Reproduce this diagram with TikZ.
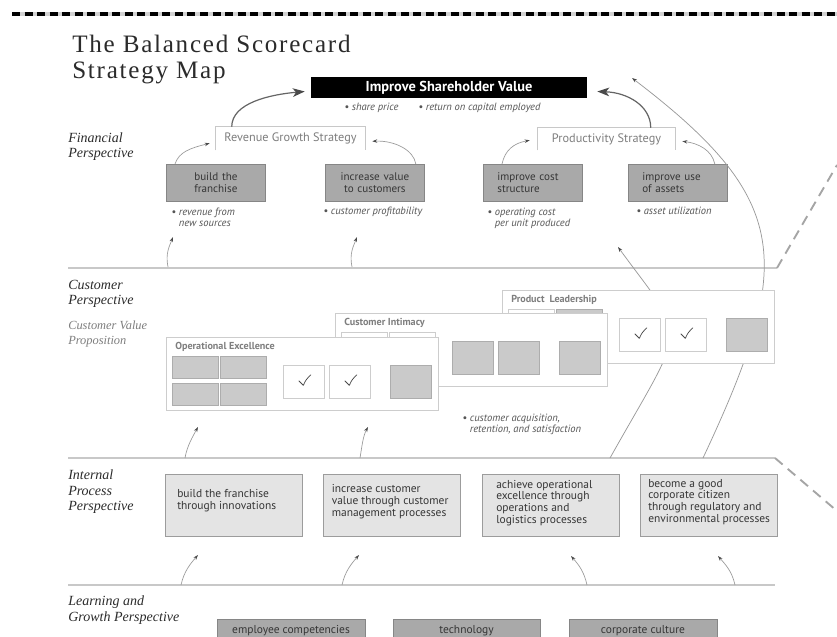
\documentclass[tikz,border=0pt]{standalone}
\usepackage{fontspec}
\setsansfont{PT Sans}
\newfontfamily\titlefont[LetterSpace=7]{Liberation Serif}
\newfontfamily\perspfont{Liberation Serif}
\usetikzlibrary{arrows.meta,calc}

\definecolor{ink}{HTML}{2B2B2B}
\definecolor{boxink}{HTML}{363636}
\definecolor{finfill}{HTML}{A9A9A9}
\definecolor{finline}{HTML}{868686}
\definecolor{ipfill}{HTML}{E4E4E4}
\definecolor{ipline}{HTML}{9C9C9C}
\definecolor{cellfill}{HTML}{CACACA}
\definecolor{cellline}{HTML}{ADADAD}
\definecolor{panelline}{HTML}{CDCDCD}
\definecolor{rulegrey}{HTML}{C8C8C8}
\definecolor{arcgrey}{HTML}{9A9A9A}
\definecolor{headgrey}{HTML}{4A4A4A}
\definecolor{notegrey}{HTML}{555555}
\definecolor{labelgrey}{HTML}{7E7E7E}
\definecolor{dashgap}{HTML}{D2D2D2}

% one value-proposition panel: name, origin, title, cell styles
\newcommand\vpanel[8]{%
  \begin{scope}[shift={#2}]
    \node[vpanelbox] (#1) at (0,0) {};
    \node[vplabel] (#1-title) at (9,9.5) {#3};
    \node[vcell,#4] (#1-a) at (6,19) {};
    \node[vcell,#5] (#1-b) at (54,19) {};
    \node[vcell,#6] (#1-c) at (6,46) {};
    \node[vcell,#6] (#1-d) at (54,46) {};
    \node[vslot,#7] (#1-e) at (117,28) {};
    \node[vslot,#7] (#1-f) at (163,28) {};
    \node[vslot,#8] (#1-g) at (224,28) {};
  \end{scope}}

\begin{document}
\begin{tikzpicture}[x=0.75pt,y=-0.75pt,
  titletext/.style={anchor=base west, inner sep=0pt, text=ink,
    font=\titlefont\fontsize{18.8}{20}\selectfont},
  persp/.style={anchor=north west, inner sep=0pt, align=left, text=ink,
    font=\perspfont\itshape\fontsize{10.5}{11.4}\selectfont},
  note/.style={anchor=north west, inner sep=0pt, align=left, text=notegrey,
    font=\sffamily\itshape\fontsize{7.9}{8.25}\selectfont},
  rule/.style={draw=rulegrey, line width=0.9pt},
  edgedash/.style={draw=labelgrey!70, line width=1.4pt, dash pattern=on 7.5pt off 5pt},
  topbox/.style={fill=black, text=white, inner sep=0pt,
    minimum width=207pt, minimum height=15.75pt,
    font=\sffamily\bfseries\fontsize{10.8}{12}\selectfont},
  tab/.style={fill=white, inner sep=0pt, text=labelgrey,
    minimum width=111.75pt, minimum height=17.25pt,
    font=\sffamily\fontsize{9.2}{10}\selectfont},
  tabline/.style={draw=rulegrey, line width=0.8pt},
  finbox/.style={anchor=north west, fill=finfill, draw=finline, line width=0.6pt,
    minimum height=27.75pt, inner xsep=0pt, inner ysep=0pt,
    text width=74.25pt, align=center, text=boxink,
    font=\sffamily\fontsize{8.3}{9}\selectfont},
  finleft/.style={inner xsep=10.5pt, text width=53.25pt, align=left},
  ipbox/.style={anchor=north west, fill=ipfill, draw=ipline, line width=0.6pt,
    minimum width=102.75pt, minimum height=46.5pt, inner sep=0pt},
  iptext/.style={anchor=west, inner sep=0pt, align=left, text=boxink,
    font=\sffamily\fontsize{8.6}{8.9}\selectfont},
  lgbox/.style={fill=finfill, draw=finline, line width=0.6pt, inner sep=0pt,
    minimum width=111pt, minimum height=18pt, text=boxink,
    font=\sffamily\fontsize{8.6}{9}\selectfont},
  vpanelbox/.style={anchor=north west, fill=white, draw=panelline, line width=0.7pt,
    minimum width=204pt, minimum height=54.75pt, inner sep=0pt},
  vplabel/.style={anchor=west, inner sep=0pt, text=labelgrey,
    font=\sffamily\bfseries\fontsize{7.6}{8}\selectfont},
  vcell/.style={anchor=north west, inner sep=0pt, line width=0.5pt,
    minimum width=34.5pt, minimum height=16.5pt},
  vslot/.style={anchor=north west, inner sep=0pt, line width=0.5pt,
    minimum width=30.75pt, minimum height=24.75pt},
  cgrey/.style={fill=cellfill, draw=cellline},
  cbox/.style={fill=white, draw=panelline},
  tickstroke/.style={draw=headgrey, line width=0.55pt, line cap=round, line join=round},
  ctick/.style={cbox, path picture={
    \coordinate (tk) at (path picture bounding box.center);
    \draw[tickstroke] ($(tk)+(-5,-1)$) -- ($(tk)+(-0.5,3.5)$)
      .. controls ($(tk)+(2,-2)$) .. ($(tk)+(7,-7)$);}},
  bigarrow/.style={draw=headgrey!85, line width=0.9pt,
    -{Stealth[length=9pt,width=6.5pt,inset=2.5pt,color=headgrey]}},
  smallarrow/.style={draw=arcgrey, line width=0.5pt,
    -{Stealth[length=3.8pt,width=2.6pt,color=headgrey]}},
  arcline/.style={draw=arcgrey, line width=0.55pt,
    -{Stealth[length=3.8pt,width=2.6pt,color=headgrey]}},
]
\useasboundingbox (0,0) rectangle (837,636);
\clip (0,0) rectangle (837,636);
\fill[white] (0,0) rectangle (837,636);

% top border
\draw[draw=dashgap, line width=2.6pt] (12,14) -- (837,14);
\draw[black, line width=2.6pt, dash pattern=on 6pt off 3.4pt] (12,14) -- (837,14);

% title
\node[titletext] (title1) at (72,52) {The Balanced Scorecard};
\node[titletext] (title2) at (72,78) {Strategy Map};

% perspective separators
\draw[rule] (68,268) -- (777,268);
\draw[rule] (68,458) -- (775,458);
\draw[rule] (68,585) -- (775,585);
\draw[edgedash] (777,268) -- (837,165);
\draw[edgedash] (775,458) -- (837,511);

% perspective labels
\node[persp] (lfin) at (68,132.5) {Financial\\Perspective};
\node[persp] (lcus) at (68,279.5) {Customer\\Perspective};
\node[persp, text=labelgrey, font=\perspfont\itshape\fontsize{9.3}{11.4}\selectfont] (lcvp) at (68,320.5) {Customer Value\\Proposition};
\node[persp] (lint) at (68,470) {Internal\\Process\\Perspective};
\node[persp] (llg) at (68,596) {Learning and\\Growth Perspective};

% financial perspective
\node[topbox] (sv) at (449,87.5) {Improve Shareholder Value};
\node[note] (sv1) at (344,103) {• share price};
\node[note] (sv2) at (418,103) {• return on capital employed};

\node[tab] (rg) at (290.5,138.5) {Revenue Growth Strategy};
\draw[tabline] (rg.south west) -- (rg.north west) -- (rg.north east) -- (rg.south east);
\node[tab, minimum width=102.75pt, minimum height=16.5pt] (ps) at (606.5,139) {Productivity Strategy};
\draw[tabline] (ps.south west) -- (ps.north west) -- (ps.north east) -- (ps.south east);

\node[finbox] (bf) at (166,164) {build the\\franchise};
\node[finbox] (iv) at (325,164) {increase value\\to customers};
\node[finbox, finleft] (ic) at (483,164) {improve cost\\structure};
\node[finbox, finleft] (iu) at (628,164) {improve use\\of assets};

\node[note] (nbf) at (171,207.5) {• revenue from\\\hphantom{• }new sources};
\node[note] (niv) at (323,207) {• customer profitability};
\node[note] (nic) at (487,207.5) {• operating cost\\\hphantom{• }per unit produced};
\node[note] (niu) at (636,207) {• asset utilization};

% long links from the internal processes, passing behind the panels
\coordinate (arcAs) at (703,458);
\coordinate (arcAe) at (632,78);
\draw[arcline] (arcAs) .. controls (795,262) and (792,200) .. (arcAe);
\coordinate (arcBs) at (610,458);
\coordinate (arcBe) at (618,247);
\draw[arcline] (arcBs) .. controls (688,319) and (689,344) .. (arcBe);

% customer value proposition panels, back to front
\vpanel{pl}{(502,290)}{Product\enspace Leadership}{cbox}{cgrey}{cgrey}{ctick}{cgrey}
\vpanel{ci}{(335,313)}{Customer Intimacy}{cbox}{cbox}{cgrey}{cgrey}{cgrey}
\vpanel{oe}{(166,337)}{Operational Excellence}{cgrey}{cgrey}{cgrey}{ctick}{cgrey}

\node[note] (ncu) at (462,413.5) {• customer acquisition,\\\hphantom{• }retention, and satisfaction};

% internal process perspective
\node[ipbox] (ip1) at (165,474) {};
\node[ipbox] (ip2) at (323,474) {};
\node[ipbox] (ip3) at (482,474) {};
\node[ipbox] (ip4) at (640,474) {};
\node[iptext] (ip1t) at (177,501) {build the franchise\\through innovations};
\node[iptext] (ip2t) at (331.5,502) {increase customer\\value through customer\\management processes};
\node[iptext] (ip3t) at (496,503) {achieve operational\\excellence through\\operations and\\logistics processes};
\node[iptext] (ip4t) at (648,502) {become a good\\corporate citizen\\through regulatory and\\environmental processes};

% learning and growth perspective
\node[lgbox] (lg1) at (291,631) {employee competencies};
\node[lgbox, minimum width=110.25pt] (lg2) at (466.5,631) {technology};
\node[lgbox] (lg3) at (643,631) {corporate culture};

% links into the shareholder value
\draw[bigarrow] ($(rg.north west)+(16,0)$) .. controls +(0,-24) and +(-34,3) .. ($(sv.west)+(-6,4)$);
\draw[bigarrow] ($(ps.north west)+(113,0)$) .. controls +(0,-22) and +(30,1) .. ($(sv.east)+(10,4)$);

% links into the strategies
\draw[smallarrow] ($(bf.north west)+(9,0)$) .. controls +(4,-12) and +(-20,5) .. ($(rg.south west)+(-6,-7)$);
\draw[smallarrow] ($(iv.north east)+(-9,0)$) .. controls +(-2,-14) and +(22,-1) .. ($(rg.south east)+(7,-9)$);
\draw[smallarrow] ($(ic.north west)+(19,0)$) .. controls +(3,-14) and +(-16,3) .. ($(ps.south west)+(-8,-10)$);
\draw[smallarrow] ($(iu.north east)+(-13,0)$) .. controls +(-3,-14) and +(16,2) .. ($(ps.south east)+(7,-9)$);

% links up from the customer perspective
\coordinate (cu1s) at (168,267); \coordinate (cu1e) at (173,237);
\coordinate (cu2s) at (352,267); \coordinate (cu2e) at (357,237);
\draw[smallarrow] (cu1s) .. controls +(-3,-14) and +(-3,8) .. (cu1e);
\draw[smallarrow] (cu2s) .. controls +(-3,-14) and +(-3,8) .. (cu2e);

% links up from the internal perspective
\coordinate (ip1s) at (185,458); \coordinate (ip1e) at (198,427);
\coordinate (ip2s) at (360,458); \coordinate (ip2e) at (368,427);
\draw[smallarrow] (ip1s) .. controls +(2,-12) and +(-5,9) .. (ip1e);
\draw[smallarrow] (ip2s) .. controls +(2,-12) and +(-5,9) .. (ip2e);

% links up from learning and growth
\coordinate (lg1s) at (181,585); \coordinate (lg1e) at (198,555);
\coordinate (lg2s) at (342,585); \coordinate (lg2e) at (359,555);
\coordinate (lg3s) at (587,585); \coordinate (lg3e) at (571,556);
\coordinate (lg4s) at (735,585); \coordinate (lg4e) at (718,556);
\draw[smallarrow] (lg1s) .. controls +(3,-14) and +(-7,8) .. (lg1e);
\draw[smallarrow] (lg2s) .. controls +(3,-14) and +(-7,8) .. (lg2e);
\draw[smallarrow] (lg3s) .. controls +(-3,-14) and +(7,8) .. (lg3e);
\draw[smallarrow] (lg4s) .. controls +(-3,-14) and +(7,8) .. (lg4e);
\end{tikzpicture}
\end{document}
